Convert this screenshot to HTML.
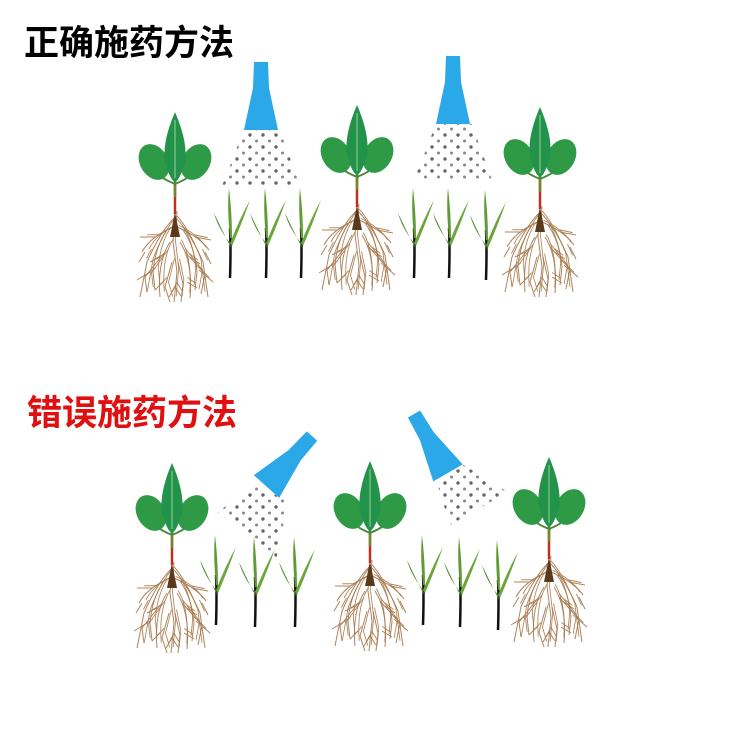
<!DOCTYPE html>
<html><head><meta charset="utf-8"><style>
html,body{margin:0;padding:0;background:#fff;}
svg{display:block;}
</style></head><body>
<svg width="750" height="750" viewBox="0 0 750 750" xmlns="http://www.w3.org/2000/svg">
<defs>
  <pattern id="dots" width="13" height="12" patternUnits="userSpaceOnUse">
    <circle cx="3" cy="3" r="1.7" fill="#666"/>
    <circle cx="9.5" cy="9" r="1.5" fill="#888"/>
  </pattern>
  <g id="roots" stroke="#a5774a" stroke-width="1" fill="none" opacity="0.9">
      <path d="M0 100 L-2 130 L2 160 L-1 190"/>
      <path d="M0 105 Q-15 120 -28 150 L-35 185"/>
      <path d="M0 105 Q15 120 28 150 L33 185"/>
      <path d="M-2 115 Q-25 125 -33 140"/>
      <path d="M2 115 Q25 125 34 138"/>
      <path d="M-5 130 Q-18 150 -15 185"/>
      <path d="M5 130 Q18 150 15 186"/>
      <path d="M-10 140 L-30 165 L-28 180"/>
      <path d="M10 140 L30 162 L26 182"/>
      <path d="M-3 150 L-10 175 L-5 190"/>
      <path d="M3 150 L8 172 L6 190"/>
      <path d="M-20 125 L-35 125"/>
      <path d="M20 125 L36 128"/>
      <path d="M-25 160 L-38 168"/>
      <path d="M24 158 L38 170"/>
      <path d="M-8 118 Q-20 135 -22 160 L-20 178"/>
      <path d="M8 118 Q20 135 22 160 L20 178"/>
      <path d="M-15 145 L-25 150 M15 145 L25 152 M-12 170 L-20 178 M12 170 L22 176"/>
      <path d="M-30 140 L-36 150 M30 140 L36 152 M0 175 L-6 185 M0 175 L6 184"/>
  </g>
  <g id="plant">
    <use href="#roots"/>
    <use href="#roots" transform="translate(2 4) scale(0.85 0.95)"/>
    <path d="M0 100 L-5 125 L5 125 Z" fill="#5a3a1a"/>
    <line x1="0" y1="60" x2="0" y2="102" stroke="#c03020" stroke-width="2.5"/>
    <line x1="0" y1="60" x2="0" y2="85" stroke="#6b8a30" stroke-width="2.5"/>
    <path d="M0 72 Q-10 68 -18 62 M0 72 Q10 68 18 62" stroke="#4a8a3a" stroke-width="2" fill="none"/>
    <ellipse cx="-21" cy="50" rx="14" ry="19" transform="rotate(-30 -21 50)" fill="#2e9a45"/>
    <ellipse cx="21" cy="50" rx="14" ry="19" transform="rotate(30 21 50)" fill="#2e9a45"/>
    <path d="M0 0 Q13 30 10 50 Q5 68 0 70 Q-5 68 -10 50 Q-13 30 0 0Z" fill="#23924a"/>
    <line x1="0" y1="8" x2="0" y2="66" stroke="#9ad29a" stroke-width="1"/>
  </g>
  <g id="grass">
    <path d="M0 90 Q1 60 0 40" stroke="#111" stroke-width="2.5" fill="none"/>
    <path d="M0 50 Q-3 20 -1 0 Q2 25 2 50Z" fill="#5e9a35"/>
    <path d="M0 55 Q10 30 20 12 Q12 35 2 58Z" fill="#6aa63c"/>
    <path d="M0 55 Q-12 40 -16 25 Q-8 42 1 60Z" fill="#4f8a2e"/>
  </g>
  <g id="nozzle">
    <path d="M-7 0 L7 0 L8 26 L17 68 L-17 68 L-8 26Z" fill="#2aa8e8"/>
  </g>
</defs>

<text x="24" y="55" font-family="Liberation Sans, 'Noto Sans CJK SC', sans-serif" font-size="35" font-weight="bold" fill="#000">正确施药方法</text>
<text x="27" y="425" font-family="Liberation Sans, 'Noto Sans CJK SC', sans-serif" font-size="35" font-weight="bold" fill="#e01010">错误施药方法</text>

<use href="#plant" x="175" y="112"/>
<use href="#plant" x="357" y="105"/>
<use href="#plant" x="540" y="107"/>
<use href="#nozzle" x="261" y="62"/>
<use href="#nozzle" x="453" y="56"/>
<polygon points="244,130 280,130 300,186 222,186" fill="url(#dots)"/>
<polygon points="436,124 472,124 492,180 414,180" fill="url(#dots)"/>
<use href="#grass" x="230" y="188"/>
<use href="#grass" x="266" y="188"/>
<use href="#grass" x="301" y="188"/>
<use href="#grass" x="414" y="188"/>
<use href="#grass" x="449" y="188"/>
<use href="#grass" x="486" y="190"/>

<use href="#plant" x="172" y="463"/>
<use href="#plant" x="370" y="461"/>
<use href="#plant" x="549" y="457"/>
<g transform="translate(312 436) rotate(42)"><use href="#nozzle" x="0" y="0"/></g>
<g transform="translate(414 414) rotate(-30)"><use href="#nozzle" x="0" y="0"/></g>
<polygon points="256,484 288,502 276,560 218,512" fill="url(#dots)"/>
<polygon points="436,480 462,464 508,492 450,525" fill="url(#dots)"/>
<use href="#grass" x="216" y="535"/>
<use href="#grass" x="255" y="537"/>
<use href="#grass" x="295" y="537"/>
<use href="#grass" x="423" y="535"/>
<use href="#grass" x="460" y="537"/>
<use href="#grass" x="498" y="540"/>
</svg>
</body></html>
